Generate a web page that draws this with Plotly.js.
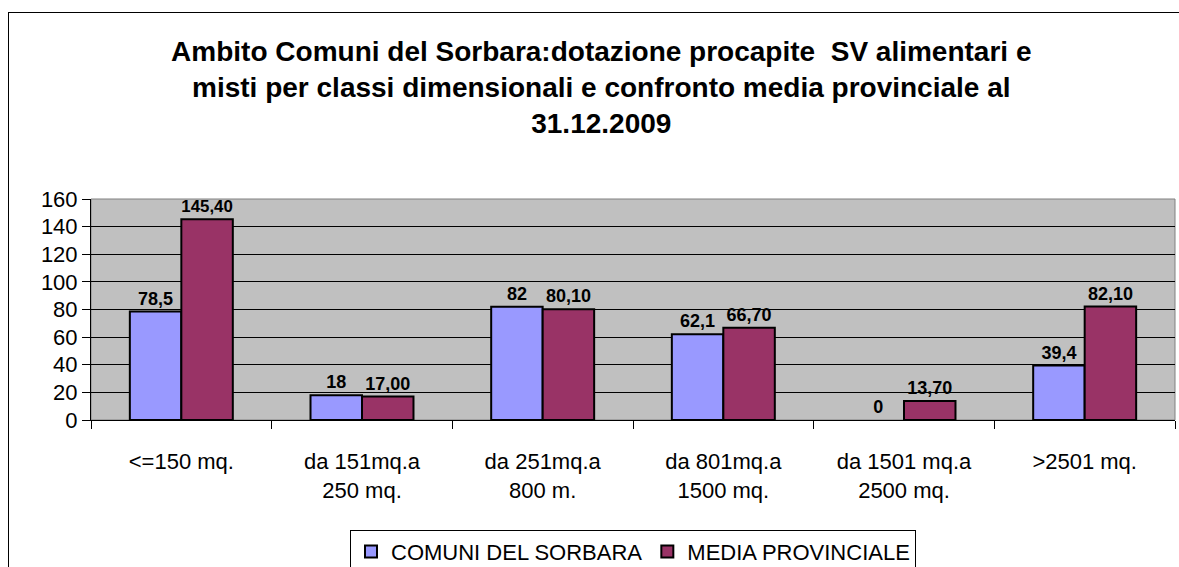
<!DOCTYPE html>
<html>
<head>
<meta charset="utf-8">
<script src="https://cdn.plot.ly/plotly-3.0.1.min.js"></script>
<style>
  html, body { margin: 0; padding: 0; background: #fff; }
  #wrap { position: relative; width: 1179px; height: 567px; overflow: hidden; }
  #chart { width: 1179px; height: 567px; }
  #frame { position: absolute; left: 8px; top: 12px; width: 1300px; height: 700px; border: 1px solid #000; pointer-events: none; }
</style>
</head>
<body>
<div id="wrap"><div id="chart"></div><div id="frame"></div></div>
<script>
const categories = ["<=150 mq.", "da 151mq.a<br>250 mq.", "da 251mq.a<br>800 m.", "da 801mq.a<br>1500 mq.", "da 1501 mq.a<br>2500 mq.", ">2501 mq."];
const sorbara = [78.5, 18, 82, 62.1, 0, 39.4];
const sorbaraLabels = ["78,5", "18", "82", "62,1", "0", "39,4"];
const provinciale = [145.4, 17.0, 80.1, 66.7, 13.7, 82.1];
const provincialeLabels = ["145,40", "17,00", "80,10", "66,70", "13,70", "82,10"];
const yTicks = [0, 20, 40, 60, 80, 100, 120, 140, 160];

const FONT = "Liberation Sans, Arial, sans-serif";
const labelFont = {family: FONT, size: 18, color: "#000", weight: "bold"};

const traces = [
  {type: "bar", name: "COMUNI DEL SORBARA", x: categories, y: sorbara, text: sorbaraLabels,
   textposition: "outside", textfont: labelFont, cliponaxis: false,
   marker: {color: "#9999FF", line: {color: "#000", width: sorbara.map(v => v === 0 ? 0 : 2)}}},
  {type: "bar", name: "MEDIA PROVINCIALE", x: categories, y: provinciale, text: provincialeLabels,
   textposition: "outside", textfont: labelFont, cliponaxis: false,
   marker: {color: "#993366", line: {color: "#000", width: 2}}}
];

const layout = {
  width: 1179, height: 567,
  margin: {l: 91, r: 4, t: 199, b: 147, autoexpand: false},
  paper_bgcolor: "#fff",
  plot_bgcolor: "#C0C0C0",
  font: {family: FONT, color: "#000", size: 22},
  title: {
    text: "<b>Ambito Comuni del Sorbara:dotazione procapite  SV alimentari e<br>misti per classi dimensionali e confronto media provinciale al<br>31.12.2009</b>",
    font: {family: FONT, size: 28, color: "#000"},
    x: 0.51, xanchor: "center", xref: "container",
    y: 0.893, yanchor: "middle", yref: "container"
  },
  barmode: "group",
  bargap: 0.43,
  bargroupgap: 0,
  xaxis: {
    type: "category", showgrid: false, showline: true, linecolor: "#000", linewidth: 1,
    ticks: "outside", tickson: "boundaries", ticklen: 8, tickcolor: "#000", automargin: false,
    ticklabelstandoff: 22, tickfont: {family: FONT, size: 22}, zeroline: false
  },
  yaxis: {
    range: [0, 160], tickvals: yTicks, showgrid: true, gridcolor: "#000", gridwidth: 1,
    showline: true, linecolor: "#000", linewidth: 1, ticks: "outside", ticklen: 8, tickcolor: "#000",
    automargin: false, tickfont: {family: FONT, size: 22}, zeroline: false
  },
  showlegend: true,
  legend: {
    orientation: "h", x: 0.5, xanchor: "center", xref: "paper",
    y: 0.066, yanchor: "top", yref: "container",
    bordercolor: "#000", borderwidth: 1, font: {family: FONT, size: 22},
    itemwidth: 30, tracegroupgap: 0
  },
  shapes: [
    {type: "rect", xref: "paper", yref: "paper", x0: 0, x1: 1, y0: 0, y1: 1,
     line: {color: "#808080", width: 1}, layer: "below", fillcolor: "rgba(0,0,0,0)"}
  ]
};

Plotly.newPlot("chart", traces, layout, {displayModeBar: false, staticPlot: true});
</script>
</body>
</html>
